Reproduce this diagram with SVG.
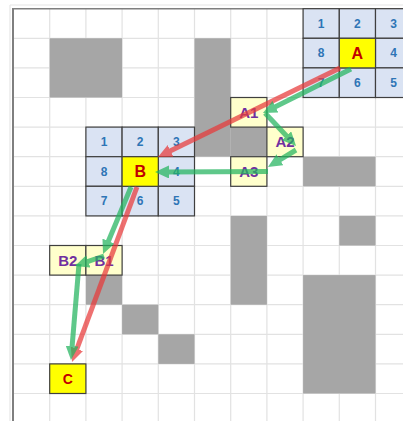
<svg xmlns="http://www.w3.org/2000/svg" width="403" height="421" viewBox="0 0 403 421">
<defs>
<style>
.gl{stroke:#E2E2E2;stroke-width:1.2}
.ob{fill:#A6A6A6}
.bc{fill:#DAE3F3;stroke:#3F3F3F;stroke-width:1.2}
.py{fill:#FFFFCC;stroke:#3F3F3F;stroke-width:1.2}
.yy{fill:#FFFF00;stroke:#3F3F3F;stroke-width:1.2}
.num{font-family:"Liberation Sans",Arial,sans-serif;font-weight:bold;font-size:12px;fill:#2E75B6;text-anchor:middle}
.big{font-family:"Liberation Sans",Arial,sans-serif;font-weight:bold;font-size:16px;fill:#C00000;text-anchor:middle}
.sub{font-family:"Liberation Sans",Arial,sans-serif;font-weight:bold;font-size:15px;fill:#7030A0;text-anchor:middle}
.rd{stroke:#E83A3A;stroke-width:5;fill:none;marker-end:url(#ar)}
.gr{stroke:#22B45E;stroke-width:5;fill:none;marker-end:url(#ag)}
.tr{opacity:0.72}
</style>
<marker id="ar" markerUnits="userSpaceOnUse" markerWidth="14" markerHeight="13" refX="4" refY="6.5" orient="auto"><path d="M0,0 L14,6.5 L0,13 z" fill="#E83A3A"/></marker>
<marker id="ag" markerUnits="userSpaceOnUse" markerWidth="14" markerHeight="13" refX="4" refY="6.5" orient="auto"><path d="M0,0 L14,6.5 L0,13 z" fill="#22B45E"/></marker>
</defs>
<rect width="403" height="421" fill="#FFFFFF"/>
<g id="grid">
<line class="gl" x1="49.7" y1="8.7" x2="49.7" y2="421"/>
<line class="gl" x1="85.9" y1="8.7" x2="85.9" y2="421"/>
<line class="gl" x1="122.1" y1="8.7" x2="122.1" y2="421"/>
<line class="gl" x1="158.3" y1="8.7" x2="158.3" y2="421"/>
<line class="gl" x1="194.5" y1="8.7" x2="194.5" y2="421"/>
<line class="gl" x1="230.7" y1="8.7" x2="230.7" y2="421"/>
<line class="gl" x1="266.9" y1="8.7" x2="266.9" y2="421"/>
<line class="gl" x1="303.1" y1="8.7" x2="303.1" y2="421"/>
<line class="gl" x1="339.3" y1="8.7" x2="339.3" y2="421"/>
<line class="gl" x1="375.5" y1="8.7" x2="375.5" y2="421"/>
<line class="gl" x1="13.5" y1="38.3" x2="403" y2="38.3"/>
<line class="gl" x1="13.5" y1="67.9" x2="403" y2="67.9"/>
<line class="gl" x1="13.5" y1="97.5" x2="403" y2="97.5"/>
<line class="gl" x1="13.5" y1="127.1" x2="403" y2="127.1"/>
<line class="gl" x1="13.5" y1="156.7" x2="403" y2="156.7"/>
<line class="gl" x1="13.5" y1="186.3" x2="403" y2="186.3"/>
<line class="gl" x1="13.5" y1="215.9" x2="403" y2="215.9"/>
<line class="gl" x1="13.5" y1="245.5" x2="403" y2="245.5"/>
<line class="gl" x1="13.5" y1="275.1" x2="403" y2="275.1"/>
<line class="gl" x1="13.5" y1="304.7" x2="403" y2="304.7"/>
<line class="gl" x1="13.5" y1="334.3" x2="403" y2="334.3"/>
<line class="gl" x1="13.5" y1="363.9" x2="403" y2="363.9"/>
<line class="gl" x1="13.5" y1="393.5" x2="403" y2="393.5"/>
<line x1="10" y1="5" x2="403" y2="5" stroke="#E6E6E6" stroke-width="1.2"/>
<line x1="10" y1="5" x2="10" y2="421" stroke="#E6E6E6" stroke-width="1.2"/>
<line x1="12" y1="8.7" x2="403" y2="8.7" stroke="#7F7F7F" stroke-width="1.6"/>
<line x1="13" y1="8" x2="13" y2="421" stroke="#7F7F7F" stroke-width="2"/>
</g>
<g id="obstacles">
<rect class="ob" x="49.7" y="38.3" width="72.4" height="59.2"/>
<rect class="ob" x="194.5" y="38.3" width="36.2" height="118.4"/>
<rect class="ob" x="230.7" y="127.1" width="36.2" height="29.6"/>
<rect class="ob" x="303.1" y="156.7" width="72.4" height="29.6"/>
<rect class="ob" x="230.7" y="215.9" width="36.2" height="88.8"/>
<rect class="ob" x="339.3" y="215.9" width="36.2" height="29.6"/>
<rect class="ob" x="303.1" y="275.1" width="72.4" height="118.4"/>
<rect class="ob" x="85.9" y="275.1" width="36.2" height="29.6"/>
<rect class="ob" x="122.1" y="304.7" width="36.2" height="29.6"/>
<rect class="ob" x="158.3" y="334.3" width="36.2" height="29.6"/>
</g>
<g id="gridA">
<rect class="bc" x="303.1" y="8.7" width="36.2" height="29.6"/>
<rect class="bc" x="339.3" y="8.7" width="36.2" height="29.6"/>
<rect class="bc" x="375.5" y="8.7" width="36.2" height="29.6"/>
<rect class="bc" x="303.1" y="38.3" width="36.2" height="29.6"/>
<rect class="bc" x="375.5" y="38.3" width="36.2" height="29.6"/>
<rect class="bc" x="303.1" y="67.9" width="36.2" height="29.6"/>
<rect class="bc" x="339.3" y="67.9" width="36.2" height="29.6"/>
<rect class="bc" x="375.5" y="67.9" width="36.2" height="29.6"/>
<text class="num" x="321.2" y="27.7">1</text>
<text class="num" x="357.4" y="27.7">2</text>
<text class="num" x="393.6" y="27.7">3</text>
<text class="num" x="321.2" y="57.3">8</text>
<text class="num" x="393.6" y="57.3">4</text>
<text class="num" x="321.2" y="86.9">7</text>
<text class="num" x="357.4" y="86.9">6</text>
<text class="num" x="393.6" y="86.9">5</text>
</g>
<g id="nodeA">
<rect class="yy" x="339.3" y="38.3" width="36.2" height="29.6"/>
<text class="big" x="357.4" y="59">A</text>
</g>
<g id="gridB">
<rect class="bc" x="85.9" y="127.1" width="36.2" height="29.6"/>
<rect class="bc" x="122.1" y="127.1" width="36.2" height="29.6"/>
<rect class="bc" x="158.3" y="127.1" width="36.2" height="29.6"/>
<rect class="bc" x="85.9" y="156.7" width="36.2" height="29.6"/>
<rect class="bc" x="158.3" y="156.7" width="36.2" height="29.6"/>
<rect class="bc" x="85.9" y="186.3" width="36.2" height="29.6"/>
<rect class="bc" x="122.1" y="186.3" width="36.2" height="29.6"/>
<rect class="bc" x="158.3" y="186.3" width="36.2" height="29.6"/>
<text class="num" x="104" y="146.1">1</text>
<text class="num" x="140.2" y="146.1">2</text>
<text class="num" x="176.4" y="146.1">3</text>
<text class="num" x="104" y="175.7">8</text>
<text class="num" x="176.4" y="175.7">4</text>
<text class="num" x="104" y="205.3">7</text>
<text class="num" x="140.2" y="205.3">6</text>
<text class="num" x="176.4" y="205.3">5</text>
</g>
<g id="nodeB">
<rect class="yy" x="122.1" y="156.7" width="36.2" height="29.6"/>
<text class="big" x="140.2" y="177.4">B</text>
</g>
<g id="nodeA1">
<rect class="py" x="230.7" y="97.5" width="36.2" height="29.6"/>
<text class="sub" x="248.8" y="117.6">A1</text>
</g>
<g id="nodeA2">
<rect class="py" x="266.9" y="127.1" width="36.2" height="29.6"/>
<text class="sub" x="285" y="147.2">A2</text>
</g>
<g id="nodeA3">
<rect class="py" x="230.7" y="156.7" width="36.2" height="29.6"/>
<text class="sub" x="248.8" y="176.8">A3</text>
</g>
<g id="nodeB2">
<rect class="py" x="49.7" y="245.5" width="36.2" height="29.6"/>
<text class="sub" x="67.8" y="265.6">B2</text>
</g>
<g id="nodeB1">
<rect class="py" x="85.9" y="245.5" width="36.2" height="29.6"/>
<text class="sub" x="104" y="265.6">B1</text>
</g>
<g id="nodeC">
<rect class="yy" x="49.7" y="363.9" width="36.2" height="29.6"/>
<text class="big" x="67.8" y="384" style="font-size:14px">C</text>
</g>
<g id="connectors">
<g class="tr"><path class="rd" d="M340,68 L167,152.6"/></g>
<g class="tr"><path class="rd" d="M137,187 L75.5,352.6"/></g>
<g class="tr"><path class="gr" d="M351,69 L271.9,108.5"/></g>
<g class="tr"><path class="gr" d="M265,113 L289.2,138.7"/></g>
<g class="tr"><path class="gr" d="M296,150 L276.5,161.8"/></g>
<g class="tr"><path class="gr" d="M268,171.5 L165,172"/></g>
<g class="tr"><path class="gr" d="M131,187 L106.9,244.8"/></g>
<g class="tr"><path class="gr" d="M104,256 L84.5,262.7"/></g>
<g class="tr"><path class="gr" d="M79,264 L71.8,350"/></g>
</g>
</svg>
